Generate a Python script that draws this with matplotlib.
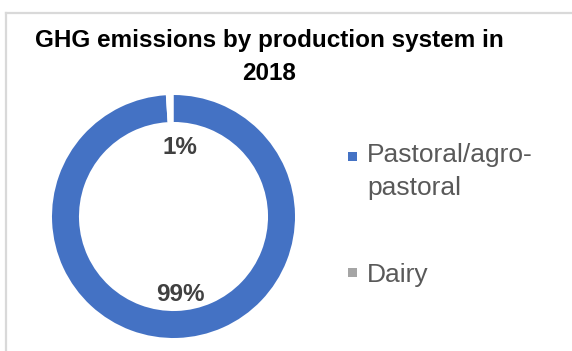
import matplotlib
matplotlib.use("Agg")
import matplotlib.pyplot as plt
from matplotlib.patches import Patch, Rectangle
from matplotlib.lines import Line2D
from matplotlib.legend_handler import HandlerBase

plt.rcParams['font.family'] = ['Liberation Sans', 'DejaVu Sans']

# Data
systems = ["Pastoral/agro-\npastoral", "Dairy"]
shares = [99, 1]
share_labels = ["99%", "1%"]
legend_colors = ["#4472C4", "#A5A5A5"]
wedge_colors = ["#4472C4", "white"]

W, H = 572, 351
fig = plt.figure(figsize=(W / 100, H / 100), dpi=100)


class TopSquareHandler(HandlerBase):
    """Square legend key aligned with the first line of a wrapped label."""

    def __init__(self, lift=0.0, **kw):
        super().__init__(**kw)
        self.lift = lift

    def create_artists(self, legend, orig_handle, xdescent, ydescent,
                       width, height, fontsize, trans):
        side = min(width, height)
        y0 = -ydescent + (height - side) / 2 + self.lift * fontsize
        rect = Rectangle((-xdescent, y0), side, side,
                         facecolor=orig_handle.get_facecolor(), edgecolor="none",
                         transform=trans)
        return [rect]


# Chart frame (top and left edges visible)
fig.add_artist(Line2D([5.5 / W, 5.5 / W], [0, 1 - 12.5 / H], color="#d9d9d9", lw=1.6,
                      transform=fig.transFigure))
fig.add_artist(Line2D([5.5 / W, 1], [1 - 12.5 / H, 1 - 12.5 / H], color="#d9d9d9", lw=1.6,
                      transform=fig.transFigure))

# Title
fig.text(269 / W, 1 - 47.5 / H, "GHG emissions by production system in",
         ha="center", va="baseline", fontsize=17.5, fontweight="bold", color="black")
fig.text(269 / W, 1 - 79.5 / H, "2018",
         ha="center", va="baseline", fontsize=17.5, fontweight="bold", color="black")

# Doughnut
cx, cy, r = 173.5, 216.5, 121.5
ax = fig.add_axes([(cx - r) / W, (H - cy - r) / H, 2 * r / W, 2 * r / H])
wedges, _ = ax.pie(shares, colors=wedge_colors, startangle=90, counterclock=False,
                   radius=1.0, wedgeprops=dict(width=0.222, edgecolor="none"))
ax.set_xlim(-1, 1)
ax.set_ylim(-1, 1)
ax.set_aspect("equal")
ax.axis("off")

# Data labels
label_pos = {"99%": (0.053, -0.645), "1%": (0.053, 0.565)}
for lab in share_labels:
    x, y = label_pos[lab]
    ax.text(x, y, lab, ha="center", va="center", fontsize=17.5, fontweight="bold",
            color="#404040")

# Legend
handles = [Patch(facecolor=c, edgecolor="none") for c in legend_colors]
leg = fig.legend(handles, systems, loc="upper left",
                 bbox_to_anchor=(348 / W, 1 - 143 / H), frameon=False,
                 borderpad=0, borderaxespad=0,
                 fontsize=19, labelcolor="#595959", handlelength=0.34,
                 handleheight=0.34, handletextpad=0.38, labelspacing=2.4,
                 handler_map={handles[0]: TopSquareHandler(lift=0.55),
                              handles[1]: TopSquareHandler(lift=0.0)})
for t in leg.get_texts():
    t.set_linespacing(1.45)

fig.savefig("out.png", dpi=100)
